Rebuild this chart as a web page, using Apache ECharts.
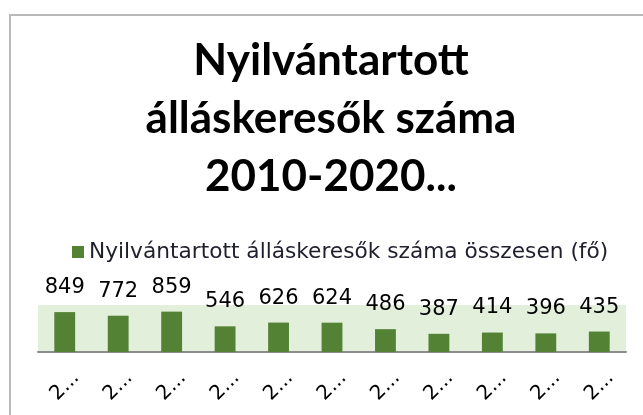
<!DOCTYPE html>
<html>
<head>
<meta charset="utf-8">
<script src="https://cdn.jsdelivr.net/npm/echarts@6/dist/echarts.min.js"></script>
<style>
    html, body { margin: 0; padding: 0; background: #fff; overflow: hidden; }
    #frame {
        position: absolute; left: 9px; top: 14px; width: 700px; height: 500px;
        border-left: 2px solid #b9b9b9; border-top: 2px solid #b9b9b9;
    }
    #chart { position: absolute; left: 0; top: 0; width: 643px; height: 415px; }
</style>
</head>
<body>
<div id="frame"></div>
<div id="chart"></div>
<script>
var years = ['2010', '2011', '2012', '2013', '2014', '2015', '2016', '2017', '2018', '2019', '2020'];
var jobseekers = [849, 772, 859, 546, 626, 624, 486, 387, 414, 396, 435];
var seriesName = 'Nyilvántartott álláskeresők száma összesen (fő)';
var titleText = 'Nyilvántartott\nálláskeresők száma\n2010-2020...';

var chart = echarts.init(document.getElementById('chart'));
var option = {
    animation: false,
    title: {
        text: titleText,
        left: 331,
        textAlign: 'center',
        top: 32,
        padding: 0,
        textStyle: {
            fontFamily: 'Lato',
            fontWeight: 'bold',
            fontSize: 44,
            lineHeight: 58,
            color: '#000'
        }
    },
    legend: {
        data: [seriesName],
        left: 72,
        top: 241,
        padding: 0,
        icon: 'rect',
        itemWidth: 12,
        itemHeight: 12,
        itemGap: 5,
        textStyle: {
            fontFamily: 'DejaVu Sans',
            fontSize: 21.7,
            color: '#1f1f2e'
        }
    },
    grid: {
        left: 38,
        right: 17,
        top: 305,
        bottom: 63,
        show: true,
        backgroundColor: '#e2efda',
        borderWidth: 0
    },
    xAxis: {
        type: 'category',
        data: years,
        axisLine: { lineStyle: { color: '#8c8c8c', width: 2 } },
        axisTick: { show: false },
        axisLabel: {
            rotate: 45,
            align: 'center',
            verticalAlign: 'middle',
            margin: 34,
            fontFamily: 'DejaVu Sans',
            fontSize: 20,
            color: '#000',
            formatter: function(v) { return v.charAt(0) + '...'; }
        }
    },
    yAxis: {
        type: 'value',
        min: 0,
        max: 1000,
        show: false,
        splitLine: { show: false }
    },
    series: [
        {
            name: seriesName,
            type: 'bar',
            data: jobseekers,
            barWidth: '39%',
            itemStyle: { color: '#548235' },
            label: {
                show: true,
                position: 'top',
                distance: 14,
                fontFamily: 'DejaVu Sans',
                fontSize: 21,
                color: '#000'
            }
        }
    ]
};
chart.setOption(option);
</script>
</body>
</html>
